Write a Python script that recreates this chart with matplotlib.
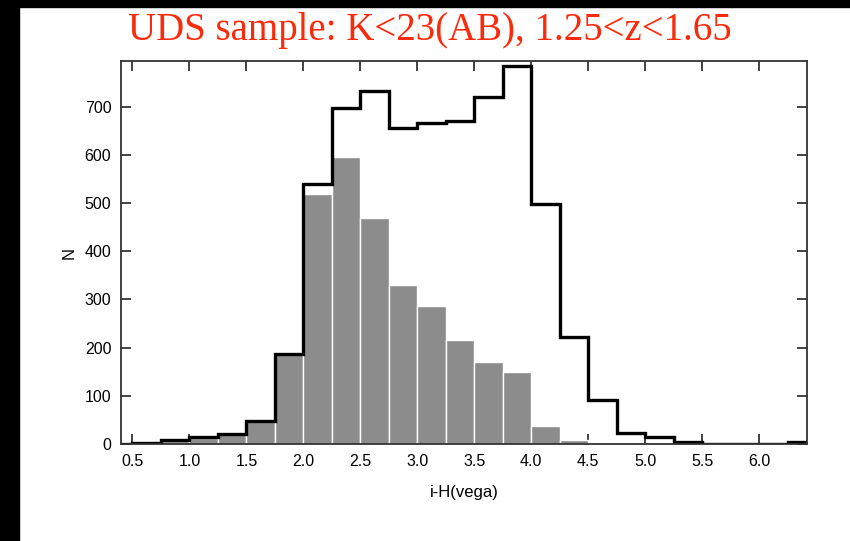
import matplotlib
matplotlib.use("Agg")
import matplotlib.pyplot as plt
import numpy as np
from matplotlib.patches import Rectangle

# histogram bins in i-H (vega), width 0.25
bin_edges = np.arange(0.25, 6.5001, 0.25)
all_counts = [0, 3, 8, 15, 21, 48, 187, 539, 697, 733, 657, 667, 670,
              721, 785, 498, 223, 92, 22, 14, 5, 0, 0, 0, 4]
sub_counts = [0, 3, 7, 13, 20, 47, 186, 518, 595, 470, 331, 286, 215,
              171, 149, 38, 8, 2, 0, 0, 0, 0, 0, 0, 0]
x_ticks = [0.5, 1.0, 1.5, 2.0, 2.5, 3.0, 3.5, 4.0, 4.5, 5.0, 5.5, 6.0]
y_ticks = [0, 100, 200, 300, 400, 500, 600, 700]

fig = plt.figure(figsize=(8.5, 5.41), dpi=100)
ax = fig.add_axes([0.1424, 0.1793, 0.807, 0.7079])

ax.bar(bin_edges[:-1], sub_counts, width=0.25, align="edge",
       color="#8c8c8c", edgecolor="white", linewidth=1.0, zorder=2)
ax.stairs(all_counts, bin_edges, color="black", linewidth=2.4, zorder=3)

ax.set_xlim(0.4, 6.42)
ax.set_ylim(0, 795)
ax.set_xticks(x_ticks)
ax.set_xticklabels([f"{t:.1f}" for t in x_ticks])
ax.set_yticks(y_ticks)

lab_font = dict(family="Liberation Sans", size=12)
for lab in ax.get_xticklabels() + ax.get_yticklabels():
    lab.set_fontfamily("Liberation Sans")
    lab.set_fontsize(11.5)
ax.tick_params(direction="in", length=7, width=1.2, color="#222222",
               top=True, right=True, pad=7)
for sp in ax.spines.values():
    sp.set_linewidth(1.3)
    sp.set_color("#333333")
    sp.set_zorder(4)

ax.set_xlabel("i-H(vega)", fontdict=lab_font, labelpad=12)
ax.set_ylabel("N", fontdict=lab_font, labelpad=6)

fig.text(0.506, 0.944, "UDS sample: K<23(AB), 1.25<z<1.65",
         color="#fa2a0a", family="Liberation Serif", fontsize=28,
         ha="center", va="center")

# black frame strips at the left and top of the slide
fig.patches.append(Rectangle((0, 0), 19 / 850, 1, transform=fig.transFigure,
                             color="black", zorder=0))
fig.patches.append(Rectangle((0, 1 - 7 / 541), 1, 7 / 541,
                             transform=fig.transFigure, color="black", zorder=0))

fig.savefig("out.png", dpi=100)
plt.close(fig)
